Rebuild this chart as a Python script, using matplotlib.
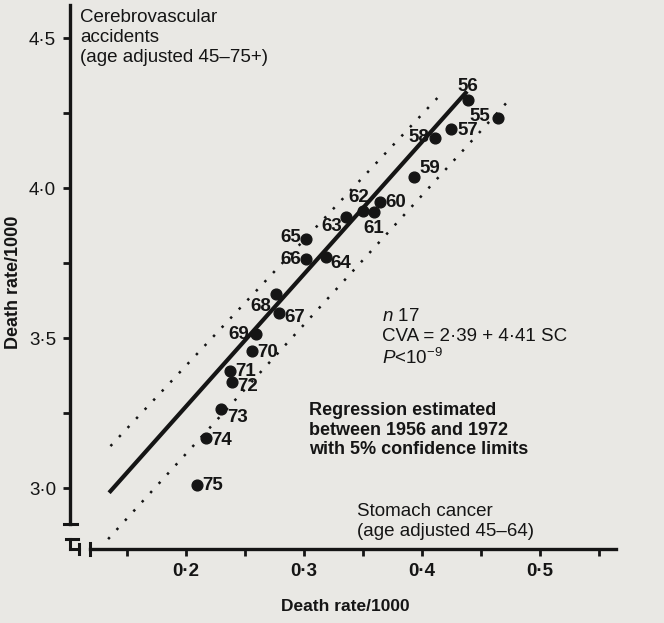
import matplotlib
matplotlib.use("Agg")
import matplotlib.pyplot as plt
from matplotlib.lines import Line2D

plt.rcParams['font.family'] = ['Liberation Sans', 'DejaVu Sans']
plt.rcParams['mathtext.fontset'] = 'custom'
plt.rcParams['mathtext.rm'] = 'Liberation Sans'
plt.rcParams['mathtext.it'] = 'Liberation Sans:italic'
plt.rcParams['mathtext.bf'] = 'Liberation Sans:bold'

# 年份 (19xx) 与死亡率/1000
years = ["55", "56", "57", "58", "59", "60", "61", "62", "63", "64", "65",
         "66", "67", "68", "69", "70", "71", "72", "73", "74", "75"]
stomach = [0.464, 0.439, 0.425, 0.411, 0.393, 0.364, 0.359, 0.350, 0.336, 0.319, 0.302,
           0.302, 0.279, 0.276, 0.259, 0.256, 0.237, 0.239, 0.230, 0.217, 0.209]
cva = [4.233, 4.293, 4.197, 4.167, 4.037, 3.953, 3.920, 3.922, 3.903, 3.770, 3.830,
       3.763, 3.583, 3.647, 3.513, 3.457, 3.390, 3.353, 3.263, 3.167, 3.010]

# 回归线 CVA = 2.39 + 4.41 SC
reg_a, reg_b = 2.39, 4.41
reg_x = [0.136, 0.437]
# 5% 置信限
upper_x = [0.136, 0.413]
upper_y = [3.14, 4.30]
lower_x = [0.134, 0.473]
lower_y = [2.83, 4.29]

x_ticks = [0.2, 0.3, 0.4, 0.5]
x_tick_labels = ["0·2", "0·3", "0·4", "0·5"]
y_ticks = [3.0, 3.5, 4.0, 4.5]
y_tick_labels = ["3·0", "3·5", "4·0", "4·5"]

# 标签偏移 (点)
label_off = {
    "55": (-5, 1, 'right'), "56": (0, 10, 'center'), "57": (4, -1, 'left'),
    "58": (-4, 0, 'right'), "59": (4, 6, 'left'), "60": (4, 0, 'left'),
    "61": (0, -12, 'center'), "62": (-3, 10, 'center'), "63": (-3, -7, 'right'),
    "64": (3, -5, 'left'), "65": (-4, 1, 'right'), "66": (-4, 0, 'right'),
    "67": (4, -3, 'left'), "68": (-3, -9, 'right'), "69": (-5, 0, 'right'),
    "70": (4, -1, 'left'), "71": (4, 0, 'left'), "72": (4, -3, 'left'),
    "73": (4, -6, 'left'), "74": (4, -2, 'left'), "75": (4, 0, 'left'),
}

W, H = 664, 623
bg = '#e9e8e4'
ink = '#151515'
fig = plt.figure(figsize=(W / 100, H / 100), dpi=100, facecolor=bg)
ax = fig.add_axes([70 / W, (H - 549) / H, 550 / W, 544 / H])
ax.set_facecolor(bg)
ax.set_xlim(0.1017, 0.5678)
ax.set_ylim(2.797, 4.61)

for s in ['top', 'right']:
    ax.spines[s].set_visible(False)
for s in ['left', 'bottom']:
    ax.spines[s].set_linewidth(2.4)
    ax.spines[s].set_color(ink)
ax.spines['left'].set_bounds(2.88, 4.61)
ax.spines['bottom'].set_bounds(0.119, 0.564)

ax.set_xticks(x_ticks)
ax.set_xticklabels(x_tick_labels, fontsize=13.5, fontweight='bold', color=ink)
ax.set_xticks([0.15, 0.25, 0.35, 0.45, 0.55], minor=True)
ax.set_yticks(y_ticks)
ax.set_yticklabels(y_tick_labels, fontsize=13.5, color=ink)
ax.set_yticks([3.25, 3.75, 4.25], minor=True)
ax.tick_params(which='both', length=5, width=2, color=ink, pad=5)

ax.plot(upper_x, upper_y, linestyle=(0, (1, 4)), color=ink, lw=1.8)
ax.plot(lower_x, lower_y, linestyle=(0, (1, 4)), color=ink, lw=1.8)
ax.plot(reg_x, [reg_a + reg_b * x for x in reg_x], color=ink, lw=3)
ax.scatter(stomach, cva, s=60, color=ink, zorder=3)

for yr, x, y in zip(years, stomach, cva):
    dx, dy, ha = label_off[yr]
    ax.annotate(yr, (x, y), xytext=(dx, dy), textcoords='offset points',
                ha=ha, va='center', fontsize=13.5, fontweight='bold', color=ink)

ax.set_xlabel("Death rate/1000", fontsize=12.5, fontweight='bold', color=ink, labelpad=14)
ax.set_ylabel("Death rate/1000", fontsize=13, fontweight='bold', color=ink)
ax.yaxis.set_label_coords(-0.088, 0.49)

ax.text(0.018, 0.993, "Cerebrovascular\naccidents\n(age adjusted 45–75+)",
        transform=ax.transAxes, ha='left', va='top', fontsize=13.5, color=ink,
        linespacing=1.25)
ax.text(0.567, 0.443, "$\\mathit{n}$ 17\nCVA = 2·39 + 4·41 SC\n$\\mathit{P}$<10$^{-9}$",
        transform=ax.transAxes, ha='left', va='top', fontsize=13.5, color=ink,
        linespacing=1.2)
ax.text(0.435, 0.27, "Regression estimated\nbetween 1956 and 1972\nwith 5% confidence limits",
        transform=ax.transAxes, ha='left', va='top', fontsize=13, fontweight='bold',
        color=ink, linespacing=1.2)
ax.text(0.522, 0.085, "Stomach cancer\n(age adjusted 45–64)",
        transform=ax.transAxes, ha='left', va='top', fontsize=13.5, color=ink,
        linespacing=1.25)


# 断轴符号 (像素坐标)
def seg(xs, ys):
    fig.add_artist(Line2D([x / W for x in xs], [1 - y / H for y in ys],
                          transform=fig.transFigure, color=ink, lw=2.2))


seg([64, 77], [524, 524])
seg([66, 78], [539, 539])
seg([70, 70], [539, 549])
seg([70, 79], [549, 549])
seg([79, 79], [544, 554])
seg([90, 90], [543, 555])

fig.savefig("out.png", dpi=100, facecolor=bg)
